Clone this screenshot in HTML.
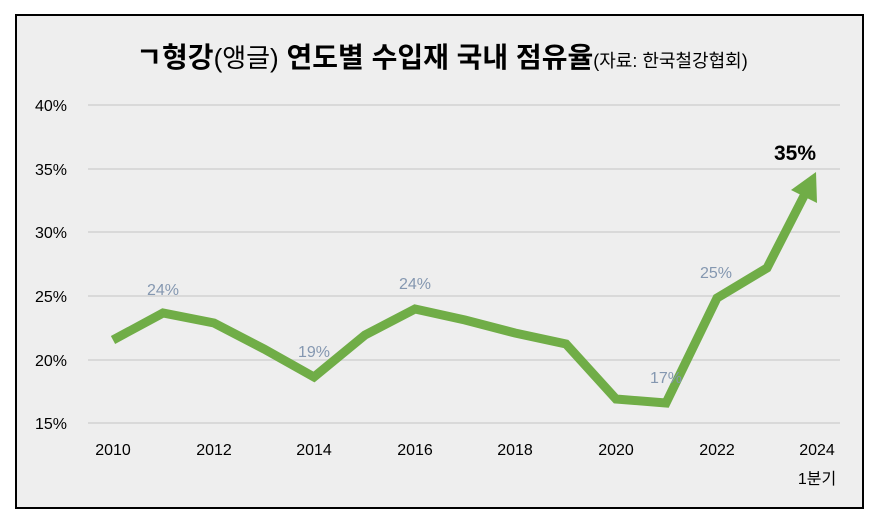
<!DOCTYPE html>
<html><head><meta charset="utf-8"><style>
body{margin:0;background:#fff;width:881px;height:521px;overflow:hidden}
svg{display:block}
text{font-family:"Liberation Sans","Noto Sans CJK KR",sans-serif}
</style></head><body>
<svg width="881" height="521" xmlns="http://www.w3.org/2000/svg">
<rect x="16" y="15" width="847" height="493" fill="#eeeeee" stroke="#000" stroke-width="2"/>
<text x="442" y="67" text-anchor="middle" font-size="28" fill="#000"><tspan font-weight="bold">ㄱ형강</tspan><tspan font-size="26">(앵글)</tspan><tspan font-weight="bold"> 연도별 수입재 국내 점유율</tspan><tspan font-size="18">(자료: 한국철강협회)</tspan></text>
<g stroke="#d9d9d9" stroke-width="2">
<line x1="88" x2="840" y1="105" y2="105"/><line x1="88" x2="840" y1="169" y2="169"/>
<line x1="88" x2="840" y1="232" y2="232"/><line x1="88" x2="840" y1="296" y2="296"/>
<line x1="88" x2="840" y1="360" y2="360"/><line x1="88" x2="840" y1="423" y2="423"/>
</g>
<g font-size="16" fill="#000" text-anchor="end">
<text x="67" y="111">40%</text><text x="67" y="175">35%</text><text x="67" y="238">30%</text>
<text x="67" y="302">25%</text><text x="67" y="366">20%</text><text x="67" y="429">15%</text>
</g>
<g font-size="16" fill="#000" text-anchor="middle">
<text x="113" y="455">2010</text><text x="214" y="455">2012</text><text x="314" y="455">2014</text>
<text x="415" y="455">2016</text><text x="515" y="455">2018</text><text x="616" y="455">2020</text>
<text x="717" y="455">2022</text><text x="817" y="455">2024</text>
<text x="817" y="484">1분기</text>
</g>
<polyline points="113,340 163,313 214,323 264,349 314,377 365,335 415,309 465,320 515,333 566,344 616,399 666,403 717,298 767,268 807,190" fill="none" stroke="#70ad47" stroke-width="9" stroke-linejoin="miter"/>
<polygon points="816,172 817,203 791,190" fill="#70ad47"/>
<g font-size="16" fill="#8497b0" text-anchor="middle">
<text x="163" y="295">24%</text><text x="314" y="357">19%</text><text x="415" y="289">24%</text>
<text x="666" y="383">17%</text><text x="716" y="278">25%</text>
</g>
<text x="795" y="160" text-anchor="middle" font-size="21" font-weight="bold" fill="#000">35%</text>
</svg>
</body></html>
